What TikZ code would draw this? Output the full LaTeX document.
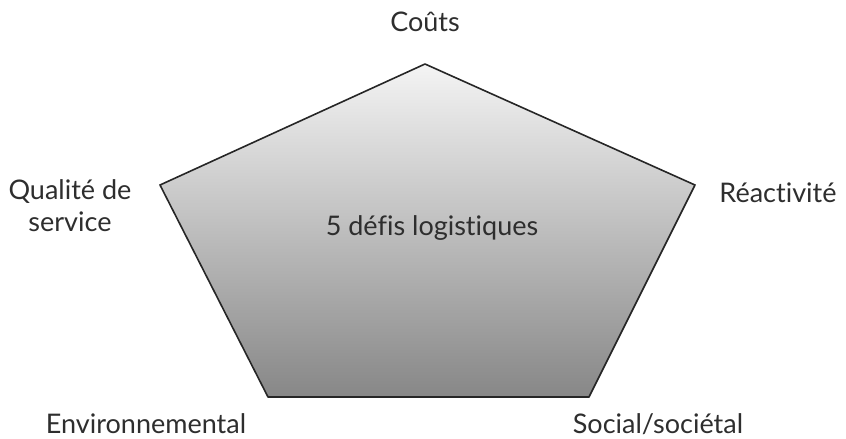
\documentclass[tikz,border=0pt]{standalone}
\usepackage{fontspec}
\setmainfont{Lato}[Ligatures={NoCommon}]
\usepackage{xcolor}
\usepackage{tikz}
\usetikzlibrary{
  positioning,
  calc
}
\definecolor{DefiText}{HTML}{2E2E2E}
\definecolor{DefiTop}{HTML}{F4F4F4}
\definecolor{DefiBottom}{HTML}{878787}

\begin{document}
\begin{tikzpicture}[x=1pt,y=-1pt,
    defilabel/.style={text=DefiText,font=\fontsize{27}{32}\selectfont,inner sep=0pt,align=center}]
  \useasboundingbox (0,0) rectangle (846,439);
  % sommets du pentagone
  \coordinate (couts) at (425,64);
  \coordinate (reac) at (695,185);
  \coordinate (social) at (589,397);
  \coordinate (envir) at (268,397);
  \coordinate (qualite) at (160,185);
  \shade[top color=DefiTop,bottom color=DefiBottom,draw=black!85,line width=1.6pt,line join=round]
    (couts) -- (reac) -- (social) -- (envir) -- (qualite) -- cycle;
  \node[defilabel] (centre) at (432,228) {5 défis logistiques};
  \node[defilabel] (lcouts) at (425,22) {Coûts};
  \node[defilabel] (lreac) at (778,193) {Réactivité};
  \node[defilabel] (lqualite) at (70,206) {Qualité de\\service};
  \node[defilabel] (lenvir) at (146,424) {Environnemental};
  \node[defilabel] (lsocial) at (658,424) {Social/sociétal};
\end{tikzpicture}
\end{document}
